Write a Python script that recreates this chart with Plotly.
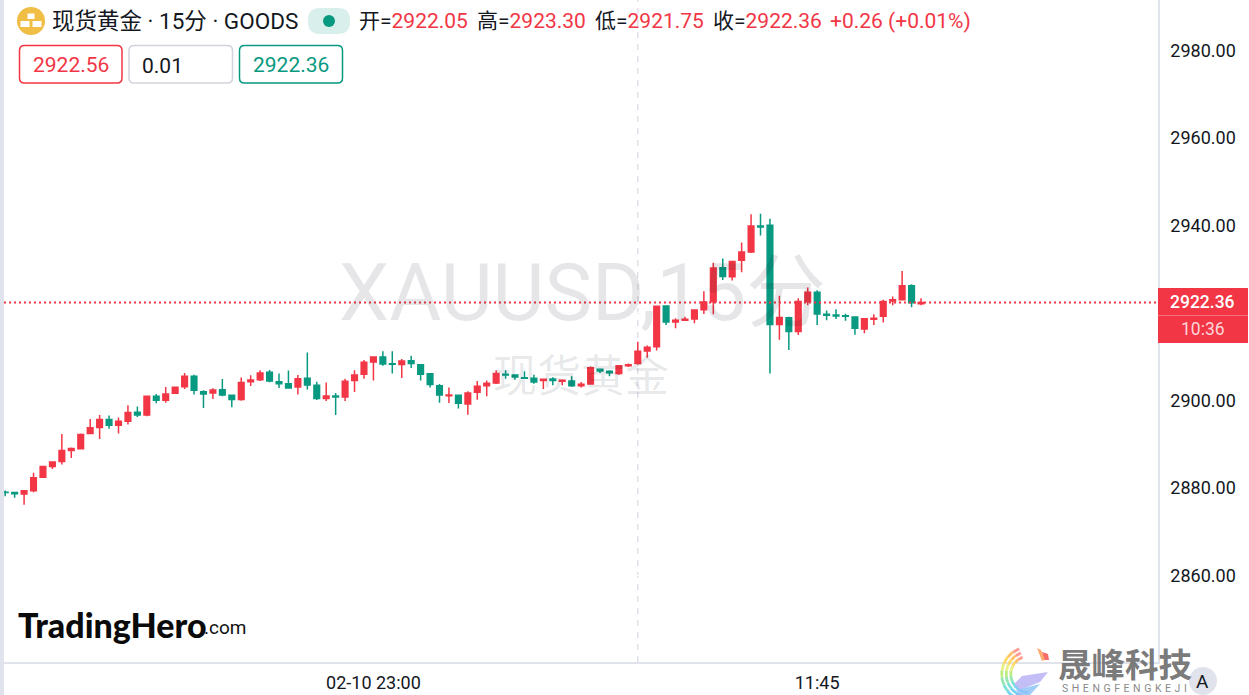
import numpy as np
import plotly.graph_objects as go

opens = [2879.0,2878.9,2878.6,2879.35,2882.4,2884.85,2886.0,2888.55,2888.95,2892.4,
2893.8,2895.6,2894.3,2895.2,2897.25,2896.65,2900.9,2900.0,2901.6,2903.1,
2905.5,2901.98,2901.65,2902.43,2901.14,2900.2,2904.25,2904.7,2906.4,2904.25,
2903.8,2903.05,2905.02,2903.42,2900.4,2901.0,2900.75,2904.5,2905.95,2908.75,
2909.9,2908.38,2908.2,2909.06,2908.15,2906.09,2903.35,2901.06,2901.14,2899.15,
2901.85,2903.35,2903.96,2905.95,2905.8,2905.18,2905.05,2904.5,2904.87,2904.35,
2904.42,2903.35,2903.75,2907.08,2906.63,2906.15,2907.9,2908.4,2911.25,2912.25,
2921.56,2917.9,2918.3,2918.6,2920.7,2922.55,2930.32,2928.25,2932.0,2933.9,
2939.85,2940.0,2917.3,2918.89,2915.75,2922.55,2924.7,2919.65,2919.5,2919.35,
2919.04,2916.3,2918.5,2919.2,2922.7,2923.0,2926.2,2922.05]
highs = [2879.4,2879.0,2879.3,2883.45,2885.05,2886.0,2892.3,2889.2,2892.4,2895.75,
2896.65,2896.5,2896.05,2898.85,2898.6,2901.05,2901.45,2903.05,2903.1,2906.25,
2905.85,2902.3,2902.75,2904.85,2901.3,2905.2,2905.7,2906.85,2906.95,2906.15,
2906.8,2905.8,2910.9,2904.25,2904.05,2901.65,2904.95,2906.85,2909.2,2910.05,
2911.2,2911.2,2909.45,2910.2,2908.25,2906.25,2903.75,2902.9,2901.35,2902.05,
2904.4,2904.55,2906.85,2906.85,2905.85,2906.65,2905.85,2904.95,2905.25,2904.8,
2905.5,2904.2,2907.7,2907.25,2906.85,2908.05,2908.4,2913.4,2912.5,2921.65,
2921.65,2918.75,2919.1,2920.8,2924.9,2931.45,2932.4,2931.9,2936.05,2942.5,
2942.65,2941.5,2923.9,2919.1,2923.3,2925.8,2925.15,2920.5,2920.8,2919.8,
2919.2,2918.75,2919.65,2923.0,2923.75,2929.55,2926.5,2923.3]
lows = [2878.05,2877.7,2876.1,2879.0,2882.3,2884.3,2885.35,2886.8,2888.85,2892.3,
2891.15,2893.5,2892.4,2894.45,2896.2,2896.35,2899.3,2899.45,2901.55,2902.6,
2901.35,2898.25,2900.3,2900.9,2898.4,2899.9,2903.25,2904.4,2904.1,2902.8,
2902.65,2901.3,2902.45,2900.05,2899.85,2896.65,2899.85,2901.9,2904.95,2904.5,
2907.9,2906.1,2905.1,2907.4,2904.55,2902.9,2899.45,2899.4,2898.1,2896.7,
2900.15,2900.9,2903.75,2904.95,2904.7,2904.95,2903.8,2902.6,2903.45,2903.45,
2903.1,2902.95,2903.65,2906.25,2905.5,2905.8,2907.6,2908.15,2909.75,2911.4,
2917.2,2916.45,2918.1,2917.6,2919.75,2919.65,2927.5,2927.4,2929.25,2933.65,
2937.65,2906.1,2913.85,2911.5,2914.95,2921.7,2917.2,2918.3,2918.6,2918.2,
2915.0,2915.3,2917.2,2917.8,2921.7,2922.85,2921.25,2921.75]
closes = [2878.9,2878.65,2879.3,2882.3,2884.85,2885.9,2888.5,2889.0,2892.2,2893.75,
2895.6,2894.3,2895.2,2897.2,2896.65,2900.9,2900.0,2901.45,2903.0,2905.5,
2902.3,2901.45,2902.35,2901.2,2900.2,2904.05,2904.65,2906.25,2904.4,2903.8,
2902.8,2904.95,2903.5,2900.4,2901.0,2900.75,2904.35,2905.8,2908.7,2909.9,
2908.3,2908.23,2909.0,2908.4,2905.95,2903.6,2901.2,2901.2,2899.3,2901.65,
2903.2,2903.9,2906.1,2905.8,2905.33,2905.03,2904.2,2904.8,2904.5,2904.57,
2903.35,2903.65,2907.45,2906.7,2906.32,2907.9,2908.15,2911.2,2912.1,2921.5,
2917.9,2918.3,2918.5,2920.65,2922.45,2930.25,2928.3,2931.75,2933.9,2939.85,
2939.6,2917.3,2918.95,2915.7,2922.6,2924.7,2919.7,2919.42,2919.27,2919.2,
2916.45,2918.65,2918.75,2922.6,2923.0,2926.2,2922.3,2922.36]
bar_index = list(range(len(opens)))

y_ticks = [2860, 2880, 2900, 2920, 2940, 2960, 2980]
y_labels = ["2860.00", "2880.00", "2900.00", "", "2940.00", "2960.00", "2980.00"]
x_ticks = [39, 86]
x_labels = ["02-10 23:00", "11:45"]
cross_index = 67
last_price = 2922.36

W, H = 1249, 695
L, R, T, B = 4, 91, 0, 33
PW, PH = W - L - R, H - T - B
RED, GREEN = "#f23645", "#089981"
INK, EDGE = "#131722", "#e0e3eb"
LAT = "Roboto, 'Noto Sans CJK SC', sans-serif"

def px(x): return (x - L) / PW
def py(y): return 1 - (y - T) / PH

shapes, anns = [], []

def text(x, y, s, size, color=INK, anchor="left", family=LAT, weight=None):
    f = dict(size=size, color=color, family=family)
    if weight:
        f["weight"] = weight
    anns.append(dict(xref="paper", yref="paper", x=px(x), y=py(y), text=s, showarrow=False,
                     xanchor=anchor, yanchor="middle", font=f, borderpad=0, borderwidth=0))

def rect(x0, y0, x1, y1, fill, line=None, lw=0, layer="above"):
    shapes.append(dict(type="rect", xref="paper", yref="paper", x0=px(x0), x1=px(x1), y0=py(y0), y1=py(y1),
                       fillcolor=fill, line=dict(color=line or fill, width=lw), layer=layer))

def rrect(x0, y0, x1, y1, r, fill, line=None, lw=1.5):
    k = [(x0 + r, y0), (x1 - r, y0), (x1, y0), (x1, y0 + r), (x1, y1 - r), (x1, y1), (x1 - r, y1), (x0 + r, y1), (x0, y1), (x0, y1 - r), (x0, y0 + r), (x0, y0)]
    p = [(px(a), py(b)) for a, b in k]
    d = (f"M{p[0][0]},{p[0][1]} L{p[1][0]},{p[1][1]} Q{p[2][0]},{p[2][1]} {p[3][0]},{p[3][1]} "
         f"L{p[4][0]},{p[4][1]} Q{p[5][0]},{p[5][1]} {p[6][0]},{p[6][1]} L{p[7][0]},{p[7][1]} "
         f"Q{p[8][0]},{p[8][1]} {p[9][0]},{p[9][1]} L{p[10][0]},{p[10][1]} Q{p[11][0]},{p[11][1]} {p[0][0]},{p[0][1]} Z")
    shapes.append(dict(type="path", xref="paper", yref="paper", path=d, fillcolor=fill,
                       line=dict(color=line or fill, width=lw if line else 0)))

def poly(points, fill=None, color=None, lw=0, close=True, opacity=1):
    d = "M" + " L".join(f"{px(a)},{py(b)}" for a, b in points) + (" Z" if close else "")
    shapes.append(dict(type="path", xref="paper", yref="paper", path=d, opacity=opacity,
                       fillcolor=fill if fill else "rgba(0,0,0,0)",
                       line=dict(color=color or "rgba(0,0,0,0)", width=lw)))

def circle(cx, cy, r, fill):
    shapes.append(dict(type="circle", xref="paper", yref="paper", x0=px(cx - r), x1=px(cx + r),
                       y0=py(cy + r), y1=py(cy - r), fillcolor=fill, line=dict(width=0)))

# left edge band
rect(0, 0, 4, H, EDGE)

# crosshair and live price line
shapes.append(dict(type="line", xref="x", yref="paper", x0=cross_index, x1=cross_index, y0=0, y1=1,
                   line=dict(color="#dfe2ea", width=1.5, dash="6px,6px"), layer="below"))
shapes.append(dict(type="line", xref="paper", yref="y", x0=0, x1=1, y0=last_price, y1=last_price,
                   line=dict(color=RED, width=1.8, dash="2px,3px")))

# watermarks
text(582, 293, "XAUUSD,15分", 80, "rgba(19,23,34,0.105)", "center")
text(581, 377, "现货黄金", 44, "rgba(19,23,34,0.105)", "center")

# header
circle(31, 21, 14, "#f0bd45")
rect(27.5, 13.5, 34.5, 19, "#ffffff")
rect(20.5, 21, 29.5, 27, "#ffffff")
rect(32.5, 21, 41.5, 27, "#ffffff")
text(52, 21, "现货黄金 · 15分 · GOODS", 22.5)
rrect(308, 8, 350, 34, 12, "#d9efeb")
circle(329, 21, 6, GREEN)
vals = [("开", "2922.05"), ("高", "2923.30"), ("低", "2921.75"), ("收", "2922.36")]
head_x = [359, 477, 595, 713]
for (k, v), hx in zip(vals, head_x):
    text(hx, 21, f"{k}=<span style='color:{RED}'>{v}</span>", 21)
text(830, 21, "+0.26 (+0.01%)", 21, RED)

rrect(19.5, 45.5, 122, 83, 5, "#ffffff", RED)
rrect(129, 45.5, 232.5, 83, 5, "#ffffff", "#d1d4dc")
rrect(239.5, 45.5, 342.5, 83, 5, "#ffffff", GREEN)
text(70.5, 64.5, "2922.56", 21, RED, "center")
text(142, 65.5, "0.01", 21, INK)
text(291, 64.5, "2922.36", 21, GREEN, "center")

# brand bottom-left
text(18, 624.5, "TradingHero", 34, "#0a0a0a", family="Lato, sans-serif", weight=900)
text(204, 627, ".com", 19, "#111111", family="Roboto, sans-serif")

# price tag on the axis
rect(1158, 288, 1248, 343, RED)
shapes.append(dict(type="line", xref="paper", yref="paper", x0=px(1158), x1=px(1248), y0=py(315.5), y1=py(315.5),
                   line=dict(color="#f7727d", width=1)))
text(1203, 302, "2922.36", 17.5, "#ffffff", "center", weight=500)
text(1203, 329, "10:36", 17.5, "#fcd5d8", "center")

# swirl logo
cols = ["#ff8a80", "#ffb74d", "#ffd54f", "#e6ee70", "#b5e86f", "#7fe3a0", "#62dcd0", "#5ccdf0", "#66b8f5", "#7fb0f5"]
angs = np.linspace(112, 268, len(cols) + 1)
for i, c in enumerate(cols):
    t = np.radians(np.linspace(angs[i], angs[i + 1], 8))
    for dr, wd in ((0, 2.8), (-4.5, 2.8), (-9, 2.8)):
        r = 26 + dr + i * 0.3
        pts = [(1029 + r * np.cos(a), 673 - r * np.sin(a)) for a in t]
        poly(pts, color=c, lw=wd, close=False, opacity=0.85)
poly([(1042, 652), (1048, 654), (1049, 660), (1044, 660)], fill="#f76b6b")
poly([(1037, 648), (1041, 650), (1045, 660), (1042, 661)], fill="#ffab70")
poly([(1022, 676), (1048, 672), (1040, 682), (1020, 690), (1014, 684)], fill="#b9b4f5", opacity=0.85)
poly([(1016, 690), (1040, 684), (1030, 695), (1020, 695)], fill="#8fc4f7", opacity=0.85)
text(1125, 662, "晟峰科技", 33.5, "rgba(105,105,105,0.9)", "center", family="'Noto Sans CJK SC', sans-serif", weight=700)
text(1124, 688.5, "\u2004".join("SHENGFENGKEJI"), 10.5, "#8a8a8a", "center", family="Roboto, sans-serif")
circle(1203, 681, 14, EDGE)
text(1203, 681, "A", 19, INK, "center")

fig = go.Figure(go.Candlestick(
    x=bar_index, open=opens, high=highs, low=lows, close=closes,
    increasing=dict(line=dict(color=RED, width=1.5), fillcolor=RED),
    decreasing=dict(line=dict(color=GREEN, width=1.5), fillcolor=GREEN),
    whiskerwidth=0, showlegend=False, hoverinfo="skip",
))
fig.update_layout(
    width=W, height=H, margin=dict(l=L, r=R, t=T, b=B, pad=0),
    paper_bgcolor="#ffffff", plot_bgcolor="#ffffff", boxgap=0.15, showlegend=False,
    shapes=shapes, annotations=anns,
    font=dict(family=LAT, color=INK),
    xaxis=dict(range=[-0.127, 122.1], rangeslider=dict(visible=False), tickmode="array",
               tickvals=x_ticks, ticktext=x_labels, showgrid=True, gridcolor="#fdfdfd", zeroline=False,
               showline=True, linecolor=EDGE, linewidth=1.5, ticks="outside", ticklen=4, tickcolor="#ffffff",
               tickfont=dict(size=18, color=INK, family=LAT)),
    yaxis=dict(range=[2840.18, 2991.5], side="right", tickmode="array", tickvals=y_ticks, ticktext=y_labels,
               showgrid=True, gridcolor="#fdfdfd", zeroline=False, showline=True, linecolor=EDGE, linewidth=1.5,
               ticks="outside", ticklen=7, tickcolor="#ffffff", tickfont=dict(size=18, color=INK, family=LAT)),
)
fig.write_html("out.html", config=dict(displayModeBar=False),
               post_script="document.body.style.margin='0';document.documentElement.style.background='#fff';")
